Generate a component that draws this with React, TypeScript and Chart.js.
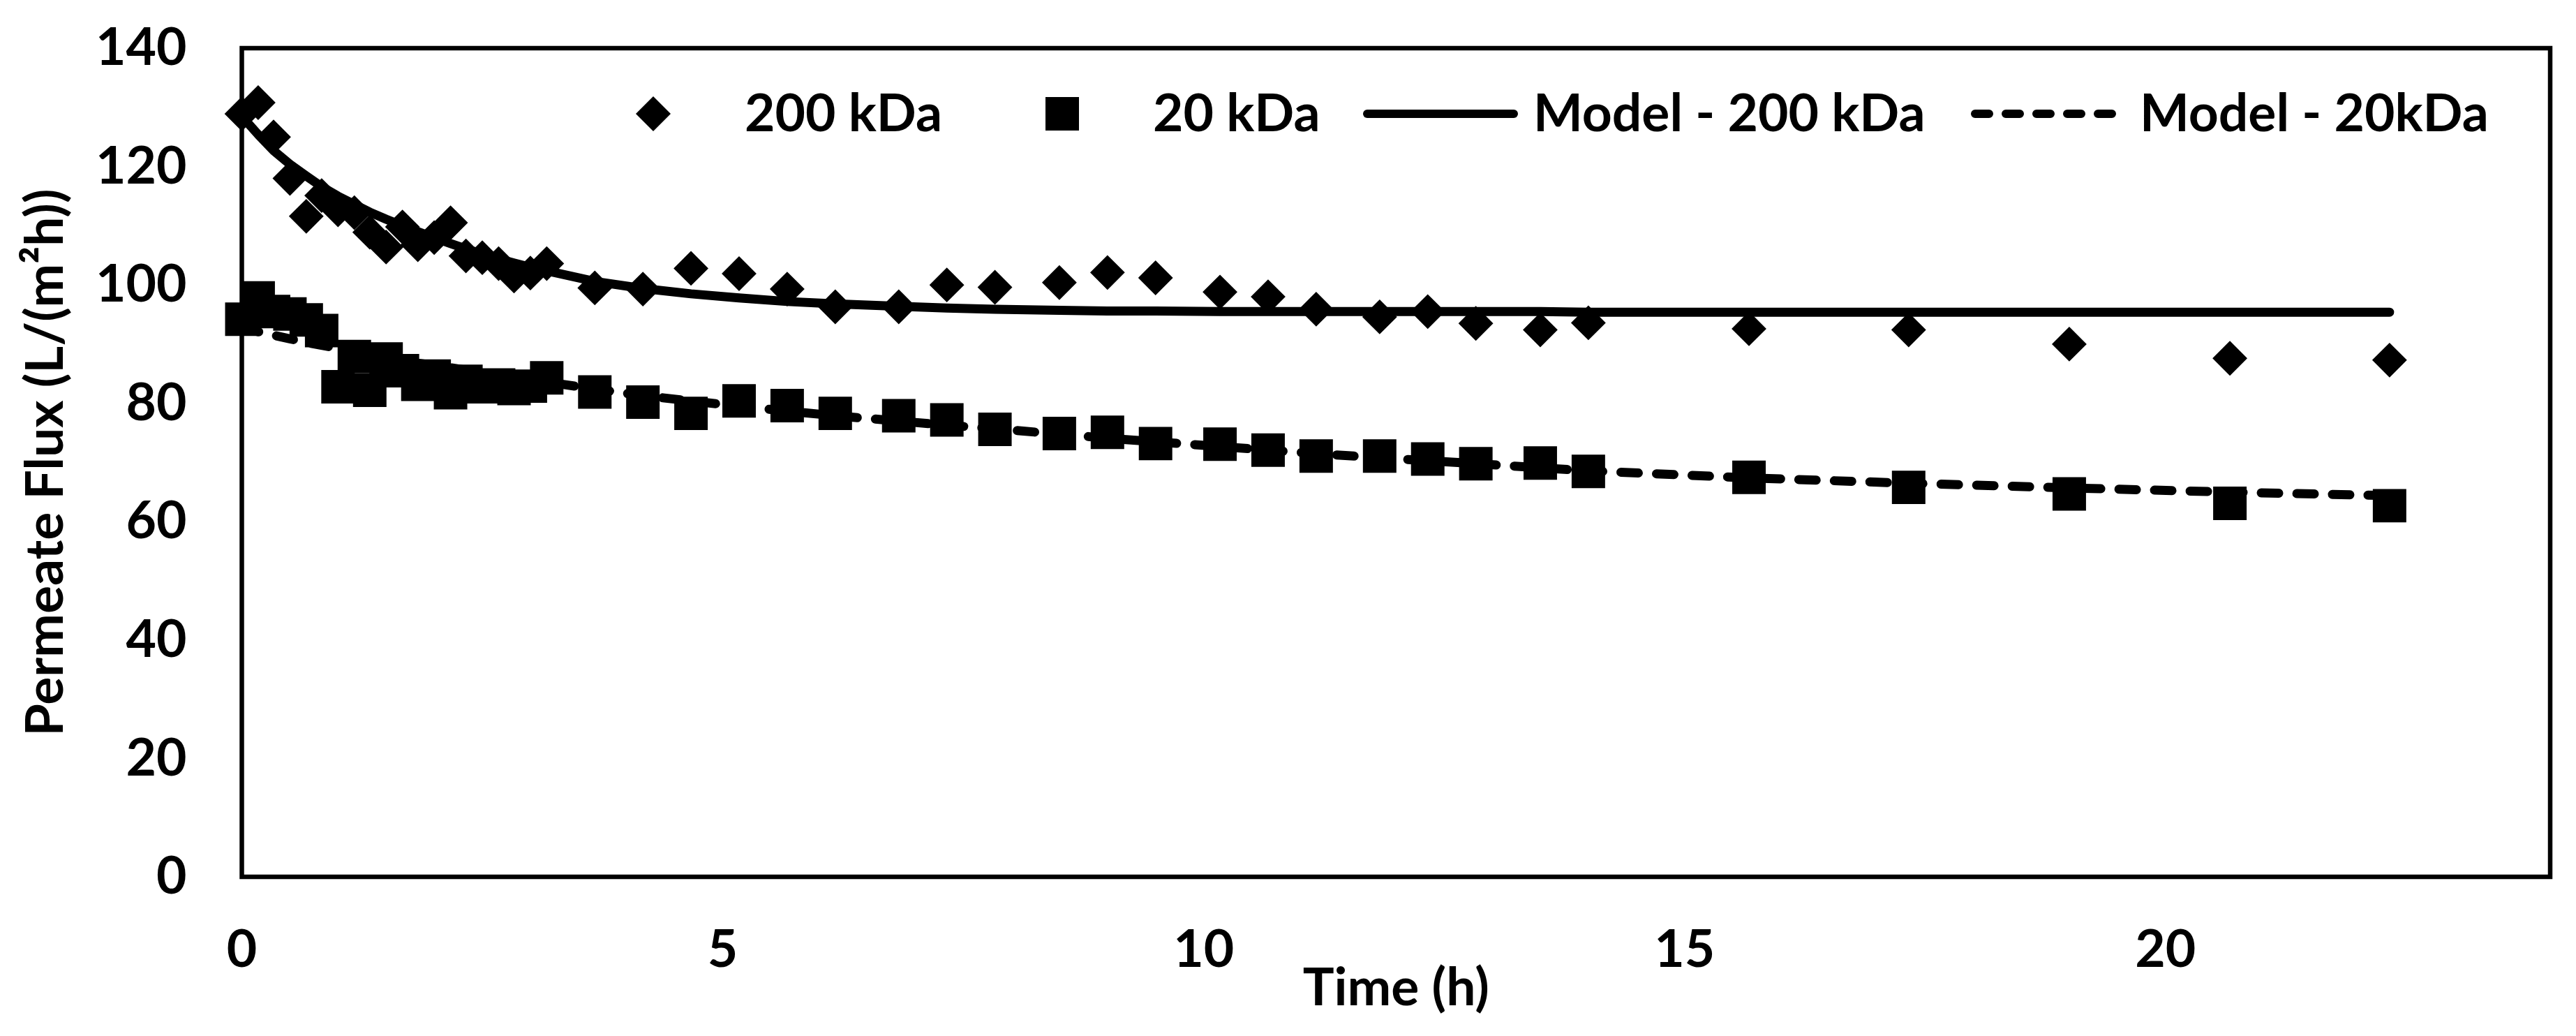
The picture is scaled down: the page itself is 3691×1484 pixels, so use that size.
import React, { useEffect, useRef } from 'react';
import { Chart, registerables } from 'chart.js';

Chart.register(...registerables);

// ---- data ----
const TIME_H = [
  0, 0.17, 0.33, 0.5, 0.67, 0.83, 1, 1.17, 1.33, 1.5,
  1.67, 1.83, 2, 2.17, 2.33, 2.5, 2.67, 2.83, 3, 3.17,
  3.67, 4.17, 4.67, 5.17, 5.67, 6.17, 6.83, 7.33, 7.83, 8.5,
  9, 9.5, 10.17, 10.67, 11.17, 11.83, 12.33, 12.83, 13.5, 14,
  15.67, 17.33, 19, 20.67, 22.33,
];

const FLUX_200KDA = [
  128.9, 130.8, 125.0, 118.0, 111.6, 115.1, 112.7, 112.2, 108.9, 106.4,
  109.8, 106.8, 108.0, 110.5, 104.9, 104.6, 103.6, 101.5, 102.0, 103.6,
  99.5, 99.3, 102.8, 101.9, 99.3, 96.3, 96.3, 100.0, 99.6, 100.4,
  102.1, 101.2, 98.8, 98.0, 95.9, 94.6, 95.5, 93.5, 92.4, 93.6,
  92.6, 92.4, 90.0, 87.6, 87.3,
];

const FLUX_20KDA = [
  94.2, 97.8, 95.5, 95.1, 94.1, 92.3, 82.8, 87.9, 82.2, 87.5,
  85.5, 83.2, 84.6, 81.8, 83.7, 82.8, 83.1, 82.5, 82.9, 84.3,
  81.9, 80.2, 78.3, 80.4, 79.6, 78.3, 77.9, 77.2, 75.6, 74.9,
  75.1, 73.2, 73.1, 72.1, 71.1, 71.1, 70.6, 69.8, 69.9, 68.5,
  67.5, 65.8, 64.7, 63.1, 62.7,
];

const MODEL_200KDA = [
  128.5, 125.4, 122.7, 120.4, 118.4, 116.6, 115.0, 113.6, 112.3, 111.1,
  110.0, 109.0, 108.0, 107.0, 106.1, 105.2, 104.4, 103.7, 103.0, 102.4,
  100.6, 99.4, 98.5, 97.8, 97.2, 96.8, 96.4, 96.1, 95.9, 95.7,
  95.6, 95.6, 95.5, 95.5, 95.5, 95.5, 95.5, 95.5, 95.5, 95.4,
  95.4, 95.4, 95.4, 95.4, 95.4,
];

const MODEL_20KDA = [
  92.8, 92.1, 91.5, 90.9, 90.3, 89.8, 89.3, 88.8, 88.3, 87.8,
  87.3, 86.8, 86.4, 86.0, 85.6, 85.2, 84.8, 84.4, 84.0, 83.6,
  82.4, 81.3, 80.4, 79.5, 78.7, 77.9, 77.0, 76.3, 75.7, 74.8,
  74.1, 73.5, 72.7, 72.1, 71.5, 70.8, 70.3, 69.8, 69.1, 68.6,
  67.4, 66.5, 65.7, 65.0, 64.4,
];

const SERIES_LABELS = ['200 kDa', '20 kDa', 'Model - 200 kDa', 'Model - 20kDa'];
const X_TICKS = [0, 5, 10, 15, 20];
const Y_TICKS = [0, 20, 40, 60, 80, 100, 120, 140];

const X_TITLE = 'Time (h)';
const Y_TITLE = 'Permeate Flux (L/(m\u00B2h))';

// ---- style ----
const FONT_FAMILY = 'Lato, "Open Sans", sans-serif';
const FONT_SIZE = 75;
const INK = '#000000';

const toPoints = (ys: number[]) => TIME_H.map((t, i) => ({ x: t, y: ys[i] }));

const framePlugin = {
  id: 'frameBox',
  beforeDatasetsDraw(chart: any) {
    const { ctx, chartArea: a } = chart;
    ctx.save();
    ctx.strokeStyle = INK;
    ctx.lineWidth = 6.5;
    ctx.strokeRect(a.left, a.top, a.right - a.left, a.bottom - a.top);
    ctx.restore();
  },
};

const legendPlugin = {
  id: 'insideLegend',
  afterDraw(chart: any) {
    const { ctx } = chart;
    const ds = chart.data.datasets;
    const midY = 163;
    const baseY = 188;
    ctx.save();
    ctx.fillStyle = INK;
    ctx.strokeStyle = INK;
    ctx.font = `bold ${FONT_SIZE}px ${FONT_FAMILY}`;
    ctx.textBaseline = 'alphabetic';
    ctx.textAlign = 'left';

    // diamond
    const dx = 936;
    ctx.beginPath();
    ctx.moveTo(dx - 25, midY);
    ctx.lineTo(dx, midY - 25);
    ctx.lineTo(dx + 25, midY);
    ctx.lineTo(dx, midY + 25);
    ctx.closePath();
    ctx.fill();
    ctx.fillText(ds[0].label, 1067, baseY);

    // square
    const sx = 1522;
    ctx.fillRect(sx - 24, midY - 24, 48, 48);
    ctx.fillText(ds[1].label, 1652, baseY);

    // solid line
    ctx.lineWidth = 12;
    ctx.lineCap = 'round';
    ctx.beginPath();
    ctx.moveTo(1959, midY);
    ctx.lineTo(2169, midY);
    ctx.stroke();
    ctx.fillText(ds[2].label, 2197, baseY);

    // dashed line
    ctx.setLineDash([20, 24]);
    ctx.beginPath();
    ctx.moveTo(2830, midY);
    ctx.lineTo(3036, midY);
    ctx.stroke();
    ctx.setLineDash([]);
    ctx.fillText(ds[3].label, 3066, baseY);
    ctx.restore();
  },
};

export default function App() {
  const canvasRef = useRef<HTMLCanvasElement | null>(null);

  useEffect(() => {
    const canvas = canvasRef.current;
    if (!canvas) return;
    document.body.style.margin = '0';

    const tickFont = { family: FONT_FAMILY, size: FONT_SIZE, weight: 'bold' as const };

    const chart = new Chart(canvas, {
      type: 'scatter',
      data: {
        datasets: [
          {
            label: SERIES_LABELS[0],
            data: toPoints(FLUX_200KDA),
            showLine: false,
            pointStyle: 'rectRot',
            pointRadius: 23.5,
            pointBorderWidth: 2,
            backgroundColor: INK,
            borderColor: INK,
            clip: false,
          },
          {
            label: SERIES_LABELS[1],
            data: toPoints(FLUX_20KDA),
            showLine: false,
            pointStyle: 'rect',
            pointRadius: 32.5,
            pointBorderWidth: 2,
            backgroundColor: INK,
            borderColor: INK,
            clip: false,
          },
          {
            label: SERIES_LABELS[2],
            data: toPoints(MODEL_200KDA),
            showLine: true,
            pointRadius: 0,
            borderWidth: 13,
            borderColor: INK,
            backgroundColor: INK,
            borderCapStyle: 'round',
            borderJoinStyle: 'round',
            tension: 0,
            clip: false,
          },
          {
            label: SERIES_LABELS[3],
            data: toPoints(MODEL_20KDA),
            showLine: true,
            pointRadius: 0,
            borderWidth: 13,
            borderColor: INK,
            backgroundColor: INK,
            borderDash: [25, 26],
            borderCapStyle: 'round',
            borderJoinStyle: 'round',
            tension: 0,
            clip: false,
          },
        ],
      },
      options: {
        animation: false,
        responsive: true,
        maintainAspectRatio: false,
        devicePixelRatio: 1,
        layout: { padding: { left: 0, top: 69, right: 37, bottom: 0 } },
        plugins: {
          legend: { display: false },
          tooltip: { enabled: false },
        },
        scales: {
          x: {
            type: 'linear',
            min: 0,
            max: 24,
            afterBuildTicks: (scale: any) => {
              scale.ticks = X_TICKS.map((v) => ({ value: v }));
            },
            afterFit: (scale: any) => {
              scale.height = 228;
              scale.paddingLeft = 0;
              scale.paddingRight = 0;
            },
            ticks: {
              stepSize: 5,
              includeBounds: false,
              padding: 60,
              color: INK,
              font: tickFont,
              maxRotation: 0,
              autoSkip: false,
            },
            grid: { display: false, drawTicks: false },
            border: { display: false },
            title: {
              display: true,
              text: X_TITLE,
              color: INK,
              font: tickFont,
              padding: { top: 0, bottom: 23 },
            },
          },
          y: {
            type: 'linear',
            min: 0,
            max: 140,
            afterBuildTicks: (scale: any) => {
              scale.ticks = Y_TICKS.map((v) => ({ value: v }));
            },
            afterFit: (scale: any) => {
              scale.width = 346.5;
              scale.paddingTop = 0;
              scale.paddingBottom = 0;
            },
            ticks: {
              stepSize: 20,
              padding: 79,
              color: INK,
              font: tickFont,
              autoSkip: false,
            },
            grid: { display: false, drawTicks: false },
            border: { display: false },
            title: {
              display: true,
              text: Y_TITLE,
              color: INK,
              font: tickFont,
              padding: { top: 21, bottom: 0 },
            },
          },
        },
      } as any,
      plugins: [framePlugin, legendPlugin],
    });

    return () => {
      chart.destroy();
    };
  }, []);

  return (
    <div
      style={{
        position: 'fixed',
        left: 0,
        top: 0,
        width: '3691px',
        height: '1484px',
        background: '#ffffff',
      }}
    >
      <canvas ref={canvasRef} />
    </div>
  );
}
